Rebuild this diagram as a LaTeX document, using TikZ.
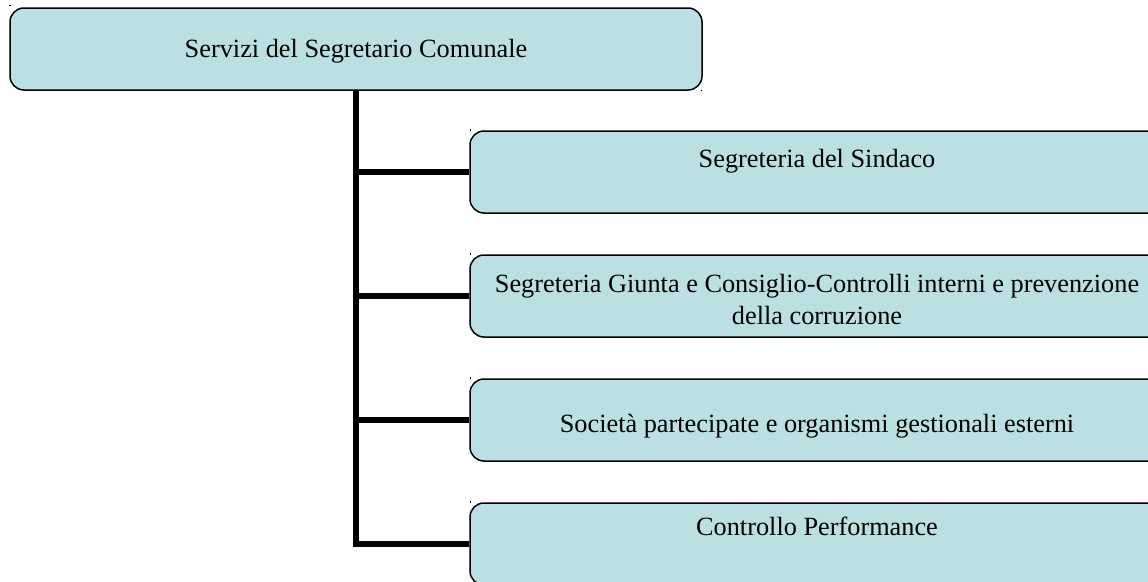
\documentclass[tikz,border=0pt]{standalone}
\usepackage{fontspec}
\setmainfont{Liberation Serif}
\definecolor{boxfill}{RGB}{187,224,227}
\begin{document}
\begin{tikzpicture}[x=1pt,y=-1pt,
  box/.style={draw=black,line width=1.5pt,fill=boxfill,rounded corners=14pt,inner sep=0pt,minimum height=82pt},
  lbl/.style={font=\fontsize{26.3}{30}\selectfont,anchor=base,inner sep=0pt},
  conn/.style={line width=5.8pt,draw=black},
  tickmark/.style={fill=black}]
\useasboundingbox (0,0) rectangle (1148,581);
\clip (0,0) rectangle (1148,581);

\node[box,minimum width=692pt] (top) at (356,49) {};
\node[box,minimum width=694pt] (b1) at (817,172) {};
\node[box,minimum width=694pt] (b2) at (817,296) {};
\node[box,minimum width=694pt] (b3) at (817,420) {};
\node[box,minimum width=694pt] (b4) at (817,544) {};

\node[lbl] (t0) at (356,57.5) {Servizi del Segretario Comunale};
\node[lbl] (t1) at (817,167) {Segreteria del Sindaco};
\node[lbl] (t2a) at (817,292) {Segreteria Giunta e Consiglio-Controlli interni e prevenzione};
\node[lbl] (t2b) at (817,324) {della corruzione};
\node[lbl] (t3) at (817,432) {Società partecipate e organismi gestionali esterni};
\node[lbl] (t4) at (817,535) {Controllo Performance};

\draw[conn] (top.south) -- (top.south |- b4.west) -- (b4.west);
\draw[conn] (top.south |- b1.west) -- (b1.west);
\draw[conn] (top.south |- b2.west) -- (b2.west);
\draw[conn] (top.south |- b3.west) -- (b3.west);

\foreach \p in {(10,5.5),(701.5,90.5),(470.5,130),(470.5,254),(470.5,378),(470.5,502)}
  \fill[tickmark] \p ++(-0.7,-0.7) rectangle ++(1.4,1.4);
\end{tikzpicture}
\end{document}
